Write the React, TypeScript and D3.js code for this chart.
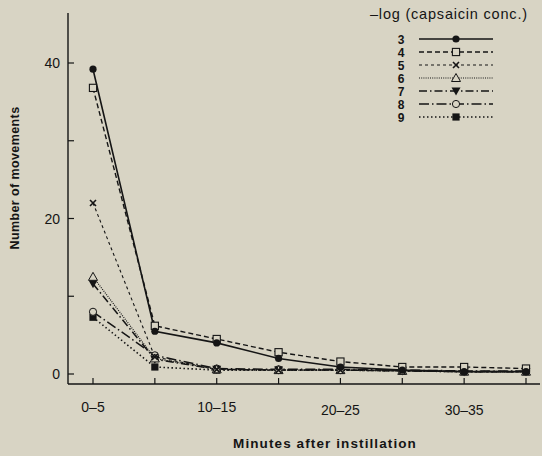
import React, { useEffect, useRef } from 'react';
import * as d3 from 'd3';

// time bins (minutes after instillation)
const bins = ['0-5', '5-10', '10-15', '15-20', '20-25', '25-30', '30-35', '35-40'];
const labelledBins = ['0-5', '10-15', '20-25', '30-35'];
const yMajor = [0, 20, 40];
const yMinor = [10, 30];

// -log capsaicin concentration series
const seriesNames = ['3', '4', '5', '6', '7', '8', '9'];
const s3 = [39.2, 5.5, 4.0, 2.0, 0.9, 0.5, 0.3, 0.3];
const s4 = [36.8, 6.2, 4.5, 2.8, 1.6, 0.9, 0.9, 0.7];
const s5 = [22.0, 2.2, 0.6, 0.5, 0.5, 0.4, 0.3, 0.3];
const s6 = [12.5, 2.0, 0.6, 0.5, 0.5, 0.4, 0.3, 0.3];
const s7 = [11.6, 1.9, 0.6, 0.5, 0.5, 0.4, 0.3, 0.3];
const s8 = [8.0, 2.4, 0.7, 0.6, 0.6, 0.5, 0.4, 0.4];
const s9 = [7.3, 0.9, 0.5, 0.5, 0.5, 0.4, 0.3, 0.3];
const seriesValues = [s3, s4, s5, s6, s7, s8, s9];

const styles = [
  { dash: null, width: 1.6, marker: 'circleFilled' },
  { dash: '5,3', width: 1.4, marker: 'squareOpen' },
  { dash: '3,3', width: 1.1, marker: 'cross' },
  { dash: '1,1.2', width: 1.2, marker: 'triangleOpen' },
  { dash: '8,3,1.5,3', width: 1.5, marker: 'triangleDown' },
  { dash: '10,3,1.5,3', width: 1.5, marker: 'circleOpen' },
  { dash: '1.5,2.5', width: 1.6, marker: 'squareFilled' },
];

const INK = '#151515';
const BG = '#d8d4c4';

const drawMarker = (g, type, cx, cy) => {
  const r = 3.6;
  if (type === 'circleFilled') {
    g.append('circle').attr('cx', cx).attr('cy', cy).attr('r', r).attr('fill', INK);
  } else if (type === 'circleOpen') {
    g.append('circle').attr('cx', cx).attr('cy', cy).attr('r', r).attr('fill', BG).attr('stroke', INK).attr('stroke-width', 1);
  } else if (type === 'squareOpen') {
    g.append('rect').attr('x', cx - r).attr('y', cy - r).attr('width', 2 * r).attr('height', 2 * r)
      .attr('fill', BG).attr('stroke', INK).attr('stroke-width', 1.1);
  } else if (type === 'squareFilled') {
    g.append('rect').attr('x', cx - r).attr('y', cy - r).attr('width', 2 * r).attr('height', 2 * r).attr('fill', INK);
  } else if (type === 'cross') {
    g.append('path').attr('d', `M${cx - 3},${cy - 3}L${cx + 3},${cy + 3}M${cx - 3},${cy + 3}L${cx + 3},${cy - 3}`)
      .attr('stroke', INK).attr('stroke-width', 1.6);
  } else if (type === 'triangleOpen') {
    g.append('path').attr('d', `M${cx},${cy - 4.5}L${cx + 4.5},${cy + 3.5}L${cx - 4.5},${cy + 3.5}Z`)
      .attr('fill', BG).attr('stroke', INK).attr('stroke-width', 1);
  } else if (type === 'triangleDown') {
    g.append('path').attr('d', `M${cx},${cy + 4.5}L${cx + 4.5},${cy - 3.5}L${cx - 4.5},${cy - 3.5}Z`).attr('fill', INK);
  }
};

const App = () => {
  const ref = useRef(null);

  useEffect(() => {
    const svg = d3.select(ref.current);
    svg.selectAll('*').remove();

    svg.append('rect').attr('width', 542).attr('height', 456).attr('fill', BG);

    const x = d3.scalePoint().domain(bins).range([93, 526]);
    const y = d3.scaleLinear().domain([0, 40]).range([374, 63]);
    const axisX = 68;
    const baseY = 384;
    const font = 'Liberation Sans, Arial, sans-serif';

    // axes lines
    svg.append('line').attr('x1', axisX).attr('x2', axisX).attr('y1', 13).attr('y2', baseY)
      .attr('stroke', INK).attr('stroke-width', 1.4);
    svg.append('line').attr('x1', axisX).attr('x2', 540).attr('y1', baseY).attr('y2', baseY)
      .attr('stroke', INK).attr('stroke-width', 1.4);

    // y ticks (inward)
    [...yMajor, ...yMinor].forEach(v => {
      svg.append('line').attr('x1', axisX).attr('x2', axisX + 6).attr('y1', y(v)).attr('y2', y(v))
        .attr('stroke', INK).attr('stroke-width', 1.2);
    });
    yMajor.forEach(v => {
      svg.append('text').attr('x', 60).attr('y', y(v) + 5).attr('text-anchor', 'end')
        .attr('font-family', font).attr('font-size', 14).attr('fill', INK).text(v);
    });

    // x ticks (inward)
    bins.forEach(b => {
      svg.append('line').attr('x1', x(b)).attr('x2', x(b)).attr('y1', baseY).attr('y2', baseY - 6)
        .attr('stroke', INK).attr('stroke-width', 1.2);
    });
    labelledBins.forEach((b, i) => {
      svg.append('text').attr('x', x(b)).attr('y', i < 2 ? 412 : 415).attr('text-anchor', 'middle')
        .attr('font-family', font).attr('font-size', 14).attr('fill', INK).text(b.replace('-', '\u2013'));
    });

    // axis titles
    svg.append('text').attr('x', 325).attr('y', 448).attr('text-anchor', 'middle')
      .attr('font-family', font).attr('font-size', 13.5).attr('font-weight', 'bold').attr('fill', INK)
      .attr('letter-spacing', 1.1)
      .text('Minutes after instillation');
    svg.append('text').attr('transform', 'translate(19,178) rotate(-90)').attr('text-anchor', 'middle')
      .attr('font-family', font).attr('font-size', 12.5).attr('font-weight', 'bold').attr('fill', INK)
      .attr('letter-spacing', 0.4)
      .text('Number of movements');

    // series lines, drawn from the last to the first so solid lines stay on top
    const line = d3.line().x((d, i) => x(bins[i])).y(d => y(d));
    for (let k = seriesValues.length - 1; k >= 0; k--) {
      const st = styles[k];
      svg.append('path').datum(seriesValues[k]).attr('d', line).attr('fill', 'none')
        .attr('stroke', INK).attr('stroke-width', st.width)
        .attr('stroke-dasharray', st.dash);
    }
    for (let k = seriesValues.length - 1; k >= 0; k--) {
      const g = svg.append('g');
      seriesValues[k].forEach((v, i) => drawMarker(g, styles[k].marker, x(bins[i]), y(v)));
    }

    // legend
    svg.append('text').attr('x', 370).attr('y', 19).attr('font-family', font).attr('font-size', 14.5)
      .attr('letter-spacing', 0.8).attr('fill', INK).text('\u2013log (capsaicin conc.)');
    seriesNames.forEach((name, k) => {
      const ly = 39 + k * 13;
      const st = styles[k];
      svg.append('text').attr('x', 401).attr('y', ly + 4.5).attr('text-anchor', 'middle')
        .attr('font-family', font).attr('font-size', 12).attr('font-weight', 'bold').attr('fill', INK).text(name);
      svg.append('line').attr('x1', 419).attr('x2', 493).attr('y1', ly).attr('y2', ly)
        .attr('stroke', INK).attr('stroke-width', st.width).attr('stroke-dasharray', st.dash);
      drawMarker(svg.append('g'), st.marker, 456, ly);
    });
  }, []);

  return (
    <svg ref={ref} width={542} height={456}
      style={{ position: 'absolute', left: 0, top: 0, display: 'block' }} />
  );
};

export default App;
